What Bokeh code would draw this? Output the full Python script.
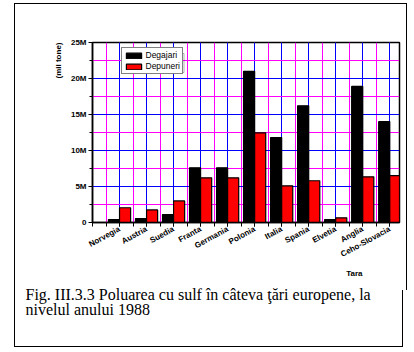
from bokeh.plotting import figure
from bokeh.models import (ColumnDataSource, Range1d, FixedTicker,
                          BoxAnnotation, Title)
from bokeh.transform import dodge
from bokeh.embed import file_html
from bokeh.resources import INLINE

# ---- data (millions of tonnes) ----
countries = ["Norvegia", "Austria", "Suedia", "Franta", "Germania", "Polonia",
             "Italia", "Spania", "Elvetia", "Anglia", "Ceho-Slovacia"]
degajari = [0.4, 0.55, 1.1, 7.6, 7.6, 21.0, 11.8, 16.2, 0.4, 18.9, 14.0]
depuneri = [2.05, 1.75, 3.0, 6.2, 6.2, 12.45, 5.1, 5.8, 0.65, 6.35, 6.5]
y_ticks = [0, 5, 10, 15, 20, 25]
y_tick_labels = ["0", "5M", "10M", "15M", "20M", "25M"]
series_names = ["Degajari", "Depuneri"]
y_title = "(mil tone)"
x_title = "Tara"
caption1 = "Fig. III.3.3 Poluarea cu sulf în câteva ţări europene, la"
caption2 = "nivelul anului 1988"

pos = list(range(1, len(countries) + 1))
src = ColumnDataSource(dict(x=pos, deg=degajari, dep=depuneri, name=countries))

FL, FB = 92.5, 222.0  # frame left / bottom on the canvas

# page frame lines drawn as CSS backgrounds behind a transparent border
frame_lines = [  # (x, y, w, h) in page pixels
    (14, 3, 1, 344), (14, 3, 393, 1), (406, 3, 1, 287),
    (402, 290, 1, 57), (14, 346, 389, 1),
]
bg_img = ", ".join(["linear-gradient(#000, #000)"] * len(frame_lines))
bg_size = ", ".join(f"{w}px {h}px" for x, y, w, h in frame_lines)
bg_pos = ", ".join(f"{x}px {y}px" for x, y, w, h in frame_lines)

p = figure(width=414, height=352, output_backend="svg", toolbar_location=None,
           x_range=Range1d(0, 11.36), y_range=Range1d(0, 25),
           min_border_left=92, min_border_right=15, min_border_top=42,
           min_border_bottom=130)
p.styles = {"background-color": "white", "background-image": bg_img,
            "background-size": bg_size, "background-position": bg_pos,
            "background-repeat": "no-repeat"}
p.background_fill_color = "white"
p.border_fill_color = None
p.outline_line_color = "black"
p.outline_line_width = 1.5

bw = 0.41
p.vbar(x=dodge("x", -bw / 2, range=p.x_range), top="deg", width=bw, source=src,
       fill_color="black", line_color="black", line_width=1.2,
       legend_label=series_names[0])
p.vbar(x=dodge("x", bw / 2, range=p.x_range), top="dep", width=bw, source=src,
       fill_color="#FF0000", line_color="black", line_width=1.2,
       legend_label=series_names[1])

# ---- axes ----
p.xaxis.ticker = FixedTicker(ticks=pos, minor_ticks=[i * 0.5 for i in range(0, 23)])
p.xaxis.major_label_overrides = {i: c for i, c in zip(pos, countries)}
p.xaxis.major_label_orientation = 0.5
p.yaxis.ticker = FixedTicker(ticks=y_ticks, minor_ticks=[2.5, 7.5, 12.5, 17.5, 22.5])
p.yaxis.major_label_overrides = {t: l for t, l in zip(y_ticks, y_tick_labels)}

for ax in (p.xaxis[0], p.yaxis[0]):
    ax.axis_line_color = "black"
    ax.axis_line_width = 1.5
    ax.major_tick_in = 0
    ax.major_tick_out = 4
    ax.minor_tick_in = 0
    ax.major_tick_line_color = "black"
    ax.minor_tick_line_color = "black"
    ax.major_label_text_font = "Liberation Sans"
    ax.major_label_text_font_style = "bold"
    ax.major_label_text_font_size = "8px"
    ax.major_label_text_color = "black"
    ax.major_label_standoff = 2
p.xaxis.minor_tick_out = 4
p.yaxis.minor_tick_out = 3

# ---- grids ----
p.xgrid.grid_line_color = "#0000FF"
p.xgrid.minor_grid_line_color = "#FF00FF"
p.ygrid.grid_line_color = "#0000FF"
p.ygrid.minor_grid_line_color = "#FF00FF"
for g in (p.xgrid[0], p.ygrid[0]):
    g.grid_line_width = 1
    g.minor_grid_line_width = 1

# ---- legend ----
lg = p.legend[0]
lg.location = (121 - FL, FB - 74)
lg.border_line_color = "black"
lg.border_line_width = 1
lg.background_fill_color = "white"
lg.background_fill_alpha = 1
lg.padding = 2
lg.margin = 0
lg.spacing = 1
lg.glyph_width = 19
lg.glyph_height = 7
lg.label_height = 9
lg.label_standoff = 3
lg.label_text_font = "Liberation Sans"
lg.label_text_font_size = "8.5px"
lg.label_text_color = "black"
lg.label_text_baseline = "middle"

p.add_layout(BoxAnnotation(left=123 - FL, right=184 - FL, top=FB - 53, bottom=FB - 72,
                           left_units="screen", right_units="screen",
                           top_units="screen", bottom_units="screen",
                           fill_alpha=0, line_color="black", line_width=1))

# ---- titles ----
t_y = Title(text=y_title, align="right", offset=0, standoff=10,
            text_font="Liberation Sans", text_font_style="bold",
            text_font_size="8px", text_color="black")
p.add_layout(t_y, "left")
t_x = Title(text=x_title, align="right", offset=399 - 362, standoff=2,
            text_font="Liberation Sans", text_font_style="bold",
            text_font_size="8px", text_color="black")
p.add_layout(t_x, "below")
t_c = Title(text=caption1 + "\n" + caption2, align="left", offset=25 - 92,
            standoff=10, text_font="Liberation Serif", text_font_style="normal",
            text_font_size="16px", text_color="black", text_line_height=0.875)
p.add_layout(t_c, "below")

open("out.html", "w").write(file_html(p, INLINE))
